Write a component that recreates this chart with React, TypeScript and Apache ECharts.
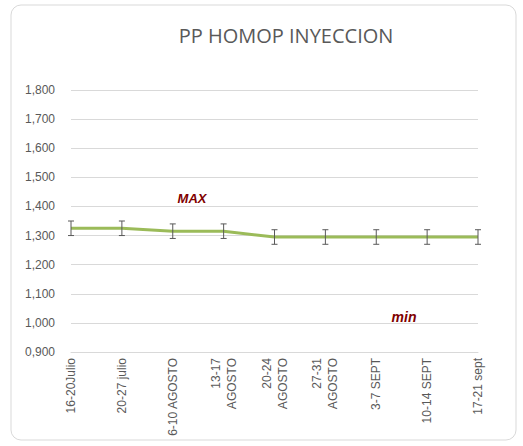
import React, { useEffect, useRef } from "react";
import * as echarts from "echarts";

const categories = [
  "16-20Julio",
  "20-27 julio",
  "6-10 AGOSTO",
  "13-17\nAGOSTO",
  "20-24\nAGOSTO",
  "27-31\nAGOSTO",
  "3-7 SEPT",
  "10-14 SEPT",
  "17-21 sept",
];
const values = [1325, 1325, 1315, 1315, 1295, 1295, 1295, 1295, 1295];
const errors = [25, 25, 25, 25, 25, 25, 25, 25, 25];
const yTicks = { min: 900, max: 1800, interval: 100 };

export default function App() {
  const ref = useRef<HTMLDivElement>(null);
  useEffect(() => {
    if (!ref.current) return;
    const chart = echarts.init(ref.current, null, { renderer: "svg" });
    const errData = values.map((v, i) => [i, v - errors[i], v + errors[i]]);
    chart.setOption({
      animation: false,
      backgroundColor: "#fff",
      title: {
        text: "PP HOMOP INYECCION",
        left: 281,
        top: 20,
        textAlign: "center",
        textStyle: {
          fontFamily: "Open Sans",
          fontSize: 20,
          fontWeight: "normal",
          color: "#595959",
        },
      },
      graphic: [
        {
          type: "rect",
          shape: { x: 11, y: 5, width: 505, height: 435, r: 10 },
          style: { fill: "none", stroke: "#d9d9d9", lineWidth: 1 },
          silent: true,
        },
        {
          type: "text",
          x: 192,
          y: 198,
          style: {
            text: "MAX",
            fill: "#7f0000",
            font: "italic bold 13px 'Liberation Sans'",
            align: "center",
            verticalAlign: "middle",
          },
        },
        {
          type: "text",
          x: 404,
          y: 317,
          style: {
            text: "min",
            fill: "#7f0000",
            font: "italic bold 14px 'Liberation Sans'",
            align: "center",
            verticalAlign: "middle",
          },
        },
      ],
      grid: { left: 71, right: 45, top: 90, bottom: 94 },
      xAxis: {
        type: "category",
        data: categories,
        boundaryGap: false,
        axisLine: { lineStyle: { color: "#d9d9d9" } },
        axisTick: { show: false },
        axisLabel: {
          rotate: 90,
          interval: 0,
          color: "#595959",
          fontFamily: "Liberation Sans",
          fontSize: 12,
          lineHeight: 16,
          margin: 6,
        },
      },
      yAxis: {
        type: "value",
        min: yTicks.min,
        max: yTicks.max,
        interval: yTicks.interval,
        axisLine: { show: false },
        axisTick: { show: false },
        splitLine: { lineStyle: { color: "#d9d9d9" } },
        axisLabel: {
          color: "#595959",
          fontFamily: "Liberation Sans",
          fontSize: 12,
          margin: 16,
          formatter: (v: number) =>
            `${Math.floor(v / 1000)},${String(v % 1000).padStart(3, "0")}`,
        },
      },
      series: [
        {
          type: "line",
          data: values,
          showSymbol: false,
          lineStyle: { color: "#9bbb59", width: 3 },
          z: 2,
        },
        {
          type: "custom",
          data: errData,
          z: 3,
          renderItem: (params: any, api: any) => {
            const x = api.value(0);
            const lo = api.coord([x, api.value(1)]);
            const hi = api.coord([x, api.value(2)]);
            const w = 3;
            const style = { stroke: "#595959", lineWidth: 1, fill: "none" };
            return {
              type: "group",
              children: [
                { type: "line", shape: { x1: lo[0], y1: lo[1], x2: hi[0], y2: hi[1] }, style },
                { type: "line", shape: { x1: lo[0] - w, y1: lo[1], x2: lo[0] + w, y2: lo[1] }, style },
                { type: "line", shape: { x1: hi[0] - w, y1: hi[1], x2: hi[0] + w, y2: hi[1] }, style },
              ],
            };
          },
        },
      ],
    });
    return () => chart.dispose();
  }, []);
  return (
    <div
      ref={ref}
      style={{ position: "fixed", left: 0, top: 0, width: 523, height: 446 }}
    />
  );
}
